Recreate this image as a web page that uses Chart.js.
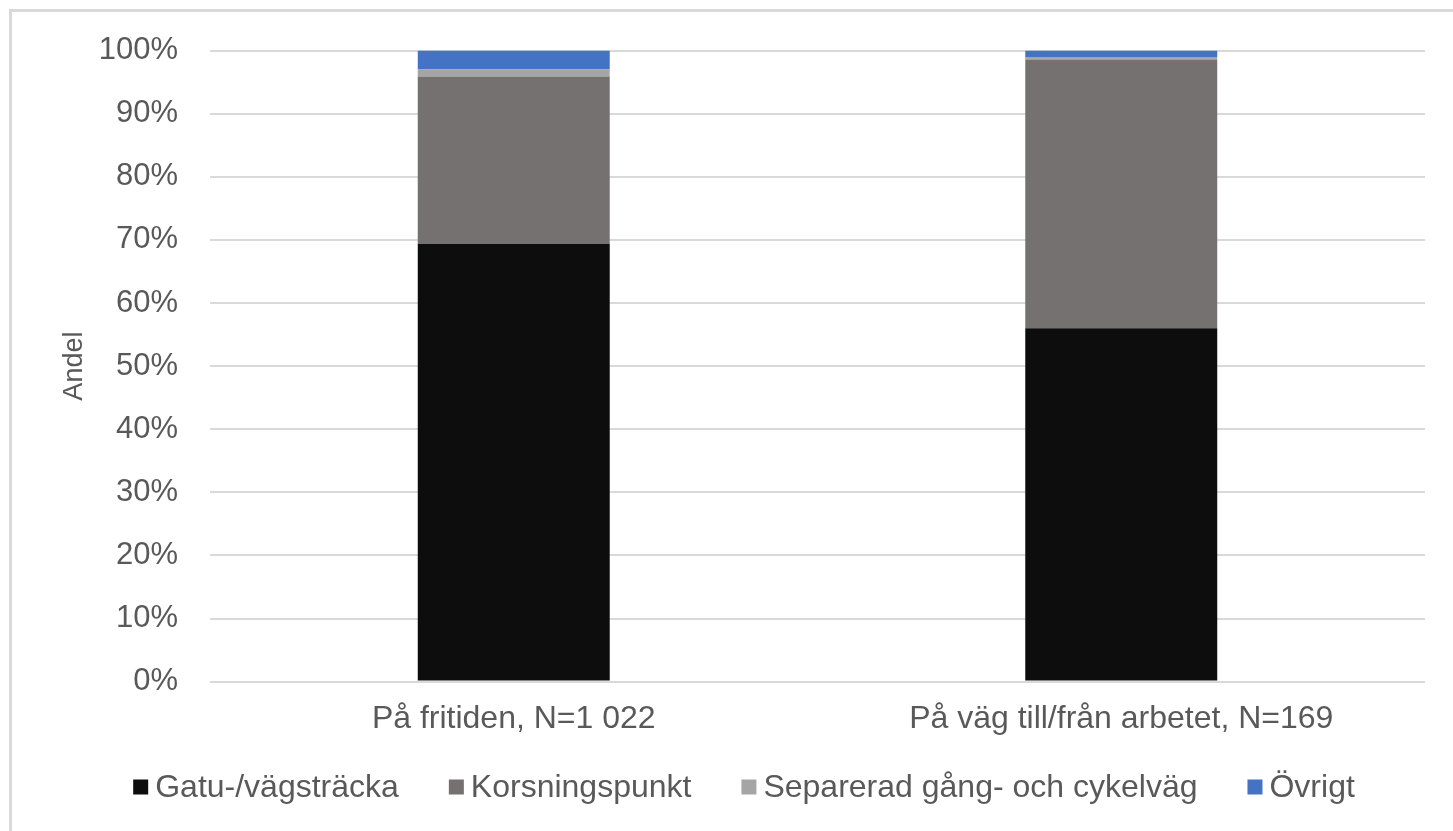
<!DOCTYPE html>
<html>
<head>
<meta charset="utf-8">
<script src="https://cdn.jsdelivr.net/npm/chart.js@4"></script>
<style>
html,body{margin:0;padding:0;background:#fff;}
#wrap{position:absolute;left:0;top:0;width:1453px;height:831px;}
</style>
</head>
<body>
<div id="wrap"><canvas id="c" width="1453" height="831"></canvas></div>
<script>
const categories = ['På fritiden, N=1 022', 'På väg till/från arbetet, N=169'];
const gatuVagstracka = [69.4, 56.0];
const korsningspunkt = [26.5, 42.6];
const separeradGangCykel = [1.1, 0.4];
const ovrigt = [3.0, 1.0];
const yTicks = [0, 10, 20, 30, 40, 50, 60, 70, 80, 90, 100];
const seriesLabels = ['Gatu-/vägsträcka', 'Korsningspunkt', 'Separerad gång- och cykelväg', 'Övrigt'];
const seriesColors = ['#0d0d0d', '#767171', '#a5a5a5', '#4472c4'];

const FONT = "'Liberation Sans', Arial, sans-serif";
const TXT = '#595959';

const borderPlugin = {
  id: 'outerBorder',
  beforeDraw(chart) {
    const ctx = chart.ctx;
    ctx.save();
    ctx.fillStyle = '#fff';
    ctx.fillRect(0, 0, chart.width, chart.height);
    ctx.strokeStyle = '#d9d9d9';
    ctx.lineWidth = 3;
    ctx.strokeRect(10.5, 10.5, chart.width + 20, chart.height + 20);
    ctx.restore();
  }
};

const legendPlugin = {
  id: 'customLegend',
  afterDraw(chart) {
    const ctx = chart.ctx;
    const box = 15, gapText = 7, gapItem = 50;
    const cy = 787;
    ctx.save();
    ctx.font = '32px ' + FONT;
    ctx.textBaseline = 'middle';
    ctx.textAlign = 'left';
    const items = chart.data.datasets.map(ds => ({ text: ds.label, color: ds.backgroundColor, w: ctx.measureText(ds.label).width }));
    let total = 0;
    items.forEach((it, i) => { total += box + gapText + it.w + (i < items.length - 1 ? gapItem : 0); });
    let x = 744 - total / 2;
    items.forEach(it => {
      ctx.fillStyle = it.color;
      ctx.fillRect(x, cy - box / 2, box, box);
      ctx.fillStyle = TXT;
      ctx.fillText(it.text, x + box + gapText, cy + 1);
      x += box + gapText + it.w + gapItem;
    });
    ctx.restore();
  }
};

new Chart(document.getElementById('c'), {
  type: 'bar',
  data: {
    labels: categories,
    datasets: seriesLabels.map((lab, i) => ({
      label: lab,
      data: [gatuVagstracka, korsningspunkt, separeradGangCykel, ovrigt][i],
      backgroundColor: seriesColors[i]
    }))
  },
  options: {
    responsive: false,
    animation: false,
    devicePixelRatio: 1,
    layout: { padding: { top: 32, right: 28, bottom: 83, left: 0 } },
    datasets: { bar: { categoryPercentage: 1, barPercentage: 0.316, borderWidth: 0 } },
    plugins: {
      legend: { display: false },
      tooltip: { enabled: false }
    },
    scales: {
      x: {
        stacked: true,
        grid: { display: false },
        border: { display: false },
        ticks: { font: { family: FONT, size: 32 }, color: TXT, padding: 10 }
      },
      y: {
        stacked: true,
        min: 0,
        max: 100,
        afterFit(scale) { scale.width = 210; },
        afterBuildTicks(scale) { scale.ticks = yTicks.map(v => ({ value: v })); },
        grid: { color: '#d9d9d9', lineWidth: 2, drawTicks: false },
        border: { display: false },
        ticks: {
          font: { family: FONT, size: 31 },
          color: TXT,
          padding: 32,
          callback: v => v + '%'
        },
        title: {
          display: true,
          text: 'Andel',
          font: { family: FONT, size: 27 },
          color: TXT,
          padding: { top: 58, bottom: 0 }
        }
      }
    }
  },
  plugins: [borderPlugin, legendPlugin]
});
</script>
</body>
</html>
